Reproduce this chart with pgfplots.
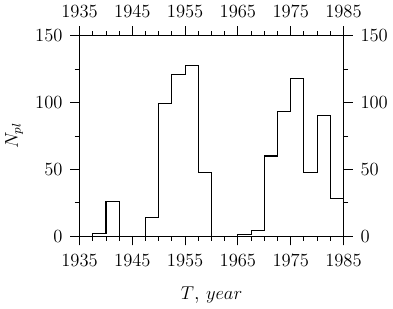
\documentclass[border=0pt]{standalone}
\usepackage{pgfplots}
\pgfplotsset{compat=1.18}

\pgfplotstableread{
year  n
1935  0
1937.5 2
1940  26
1942.5 0
1945  0
1947.5 14
1950  99
1952.5 121
1955  128
1957.5 48
1960  0
1962.5 0
1965  1
1967.5 4
1970  60
1972.5 93
1975  118
1977.5 48
1980  90
1982.5 28
1985  28
}\counts

\pgfplotsset{
  frameaxis/.style={
    scale only axis, width=170.5pt, height=129.5pt,
    xmin=1935, xmax=1985, ymin=0, ymax=150,
    xtick={1935,1945,...,1985}, ytick={0,50,100,150},
    minor x tick num=3, minor y tick num=1,
    tick align=outside,
    major tick length=6pt, minor tick length=3pt,
    axis line style={line width=0.9pt},
    every tick/.style={line width=0.6pt,black},
    /pgf/number format/1000 sep={},
    tick label style={font=\fontsize{12}{14}\selectfont},
    xticklabel shift=2.5pt, yticklabel shift=1.5pt,
  }
}

\begin{document}
\begin{tikzpicture}
\begin{axis}[frameaxis,
  xlabel={$T$, $year$},
  ylabel={$N_{pl}$},
  xlabel style={font=\fontsize{13}{15}\selectfont, yshift=-6pt},
  ylabel style={font=\fontsize{12}{14}\selectfont, yshift=1pt}]
\addplot[const plot, black, line width=0.7pt] table[x=year,y=n] {\counts};
\end{axis}
\begin{axis}[frameaxis,
  xticklabel pos=right, yticklabel pos=right]
\end{axis}
\end{tikzpicture}
\end{document}
